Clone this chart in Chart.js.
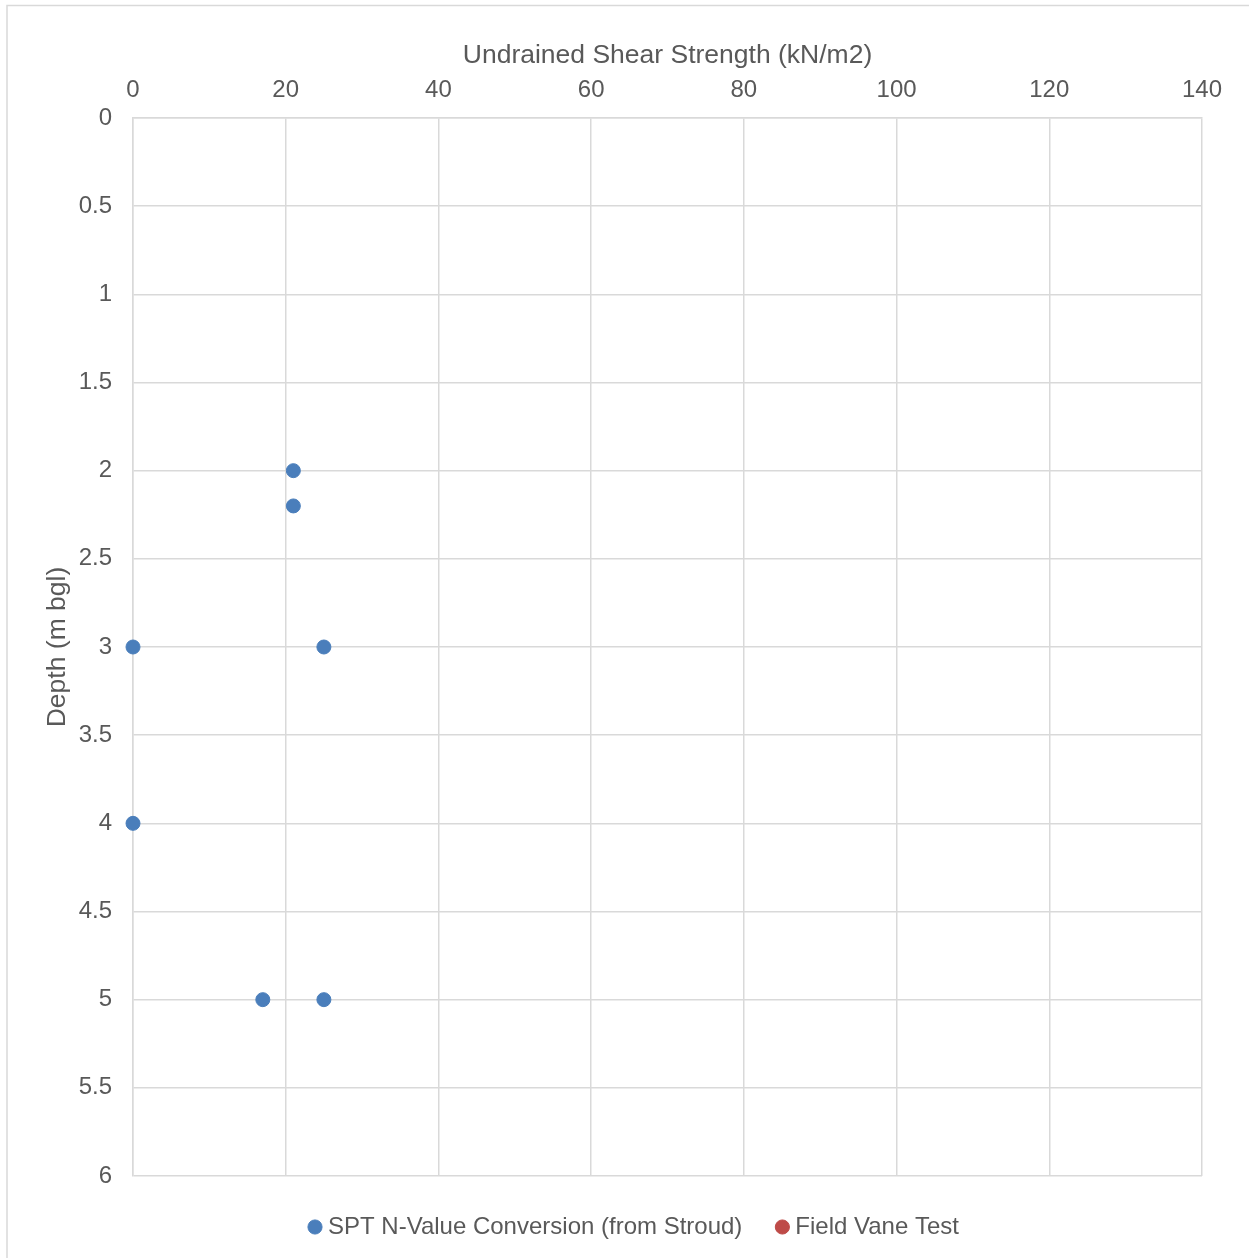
<!DOCTYPE html>
<html>
<head>
<meta charset="utf-8">
<script src="https://cdn.jsdelivr.net/npm/chart.js@4.4.1/dist/chart.umd.min.js"></script>
<style>
  html, body { margin: 0; padding: 0; background: #ffffff; }
  #wrap { position: absolute; left: 0; top: 0; width: 1249px; height: 1258px; }
</style>
</head>
<body>
<div id="wrap"><canvas id="c"></canvas></div>
<script>
const sptStrength = [21, 21, 0, 25, 0, 17, 25];
const sptDepth = [2, 2.2, 3, 3, 4, 5, 5];
const vaneStrength = [];
const vaneDepth = [];
const seriesNames = ['SPT N-Value Conversion (from Stroud)', 'Field Vane Test'];
const xTitle = 'Undrained Shear Strength (kN/m2)';
const yTitle = 'Depth (m bgl)';

const toPoints = (xs, ys) => xs.map((x, i) => ({ x: x, y: ys[i] }));

const borderPlugin = {
  id: 'outerBorder',
  beforeDraw(chart) {
    const ctx = chart.ctx;
    ctx.save();
    ctx.fillStyle = '#ffffff';
    ctx.fillRect(0, 0, chart.width, chart.height);
    ctx.strokeStyle = '#d9d9d9';
    ctx.lineWidth = 1.5;
    ctx.strokeRect(7, 5.5, chart.width + 20, chart.height + 20);
    ctx.restore();
  }
};

const textColor = '#595959';
const gridColor = '#d9d9d9';
const fontFamily = '"Liberation Sans", Arial, sans-serif';

new Chart(document.getElementById('c'), {
  type: 'scatter',
  data: {
    datasets: [
      {
        label: seriesNames[0],
        data: toPoints(sptStrength, sptDepth),
        backgroundColor: '#4a7ebb',
        borderColor: '#4a7ebb',
        pointRadius: 7,
        pointHoverRadius: 7,
        clip: false
      },
      {
        label: seriesNames[1],
        data: toPoints(vaneStrength, vaneDepth),
        backgroundColor: '#be4b48',
        borderColor: '#be4b48',
        pointRadius: 7,
        clip: false
      }
    ]
  },
  options: {
    responsive: true,
    maintainAspectRatio: false,
    animation: false,
    layout: { padding: { left: 24, top: 0, right: 0, bottom: 9 } },
    plugins: {
      tooltip: { enabled: false },
      legend: {
        position: 'bottom',
        labels: {
          usePointStyle: true,
          pointStyle: 'circle',
          boxWidth: 2,
          boxHeight: 10,
          padding: 39,
          color: textColor,
          font: { family: fontFamily, size: 24 }
        }
      }
    },
    scales: {
      x: {
        type: 'linear',
        position: 'top',
        min: 0,
        max: 140,
        ticks: {
          stepSize: 20,
          color: textColor,
          padding: 13,
          font: { family: fontFamily, size: 24 }
        },
        grid: { color: gridColor, lineWidth: 1.5, drawTicks: false },
        border: { color: gridColor, width: 1.5 },
        title: {
          display: true,
          text: xTitle,
          color: textColor,
          font: { family: fontFamily, size: 26.5 },
          padding: { top: 40, bottom: 0 }
        },
        afterFit(scale) { scale.height = 118; }
      },
      y: {
        type: 'linear',
        position: 'left',
        reverse: true,
        min: 0,
        max: 6,
        ticks: {
          stepSize: 0.5,
          color: textColor,
          padding: 21,
          font: { family: fontFamily, size: 24 },
          callback: (v) => String(v)
        },
        grid: { color: gridColor, lineWidth: 1.5, drawTicks: false },
        border: { color: gridColor, width: 1.5 },
        title: {
          display: true,
          text: yTitle,
          color: textColor,
          font: { family: fontFamily, size: 26.5 },
          padding: { top: 18, bottom: 0 }
        },
        afterFit(scale) { scale.width = 109; }
      },
      yRightSpace: {
        type: 'linear',
        position: 'right',
        min: 0,
        max: 1,
        ticks: { display: false },
        grid: { display: false, drawOnChartArea: false, drawTicks: false },
        border: { display: false },
        afterFit(scale) { scale.width = 47; }
      }
    }
  },
  plugins: [borderPlugin]
});
</script>
</body>
</html>
